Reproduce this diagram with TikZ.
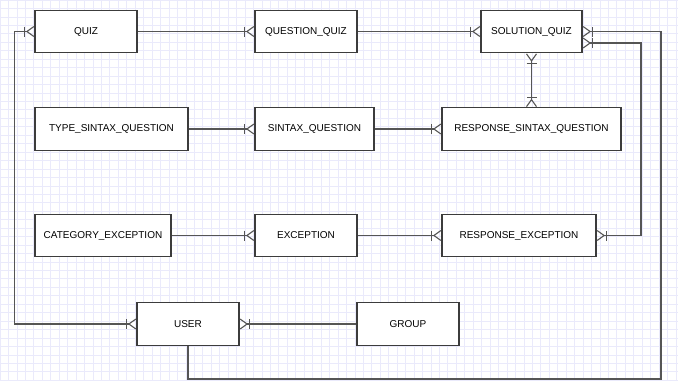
\documentclass[tikz,border=0pt]{standalone}
\usepackage{fontspec}
\setmainfont{Liberation Sans}
\usetikzlibrary{arrows.meta,positioning}
\definecolor{gridlav}{RGB}{234,234,251}
\definecolor{boxline}{RGB}{60,60,60}
\definecolor{linkgray}{RGB}{85,85,85}

\begin{document}
\begin{tikzpicture}[
    x=1pt, y=-1pt,
    entity/.style={draw=boxline, line width=1.1pt, fill=white, minimum height=42.5pt, inner sep=0pt, font=\fontsize{10}{12}\selectfont},
    link/.style={draw=linkgray, line width=1.1pt},
    tomany/.style={-{Bar[width=10pt,sep=1pt] Straight Barb[reversed,length=7pt,width=10pt]}},
    bothmany/.style={{Straight Barb[reversed,length=7pt,width=10pt] Bar[width=10pt,sep=1pt]}-{Bar[width=10pt,sep=1pt] Straight Barb[reversed,length=7pt,width=10pt]}}
]
\useasboundingbox (0,0) rectangle (678,381);
\fill[white] (0,0) rectangle (678,381);
\draw[gridlav, line width=0.8pt, step=8.45pt] (0,0) grid (678,381);

% entities
\node[entity, minimum width=102pt] (quiz) at (86,31.5) {QUIZ};
\node[entity, minimum width=102pt] (qq) at (306,31.5) {QUESTION\_QUIZ};
\node[entity, minimum width=101pt] (sq) at (531.5,31.5) {SOLUTION\_QUIZ};
\node[entity, minimum width=153pt] (tsq) at (111.5,129) {TYPE\_SINTAX\_QUESTION};
\node[entity, minimum width=119pt] (sxq) at (314.5,129) {SINTAX\_QUESTION};
\node[entity, minimum width=179pt] (rsq) at (531.5,129) {RESPONSE\_SINTAX\_QUESTION};
\node[entity, minimum width=136pt] (cat) at (103,235.5) {CATEGORY\_EXCEPTION};
\node[entity, minimum width=102pt] (exc) at (306,235.5) {EXCEPTION};
\node[entity, minimum width=154pt] (rexc) at (519,235.5) {RESPONSE\_EXCEPTION};
\node[entity, minimum width=102pt] (user) at (188,324) {USER};
\node[entity, minimum width=102pt] (group) at (408,324) {GROUP};

% bends of the long links
\coordinate (rout) at (661,379);
\coordinate (rin) at (641,43);

% relations
\draw[link, tomany] (quiz) -- (qq);
\draw[link, tomany] (qq) -- (sq);
\draw[link, tomany] (tsq) -- (sxq);
\draw[link, tomany] (sxq) -- (rsq);
\draw[link, tomany] (cat) -- (exc);
\draw[link, tomany] (exc) -- (rexc);
\draw[link, tomany] (group) -- (user);
\draw[link, bothmany] (sq) -- (rsq);
\draw[link, bothmany] (user.west) -- ++(-122,0) |- (quiz.west);
\draw[link, bothmany] (rexc.east) -| (rin) -- (sq.east |- rin);
\draw[link, tomany] (user.south) |- (rout) |- (sq.east);
\end{tikzpicture}
\end{document}
